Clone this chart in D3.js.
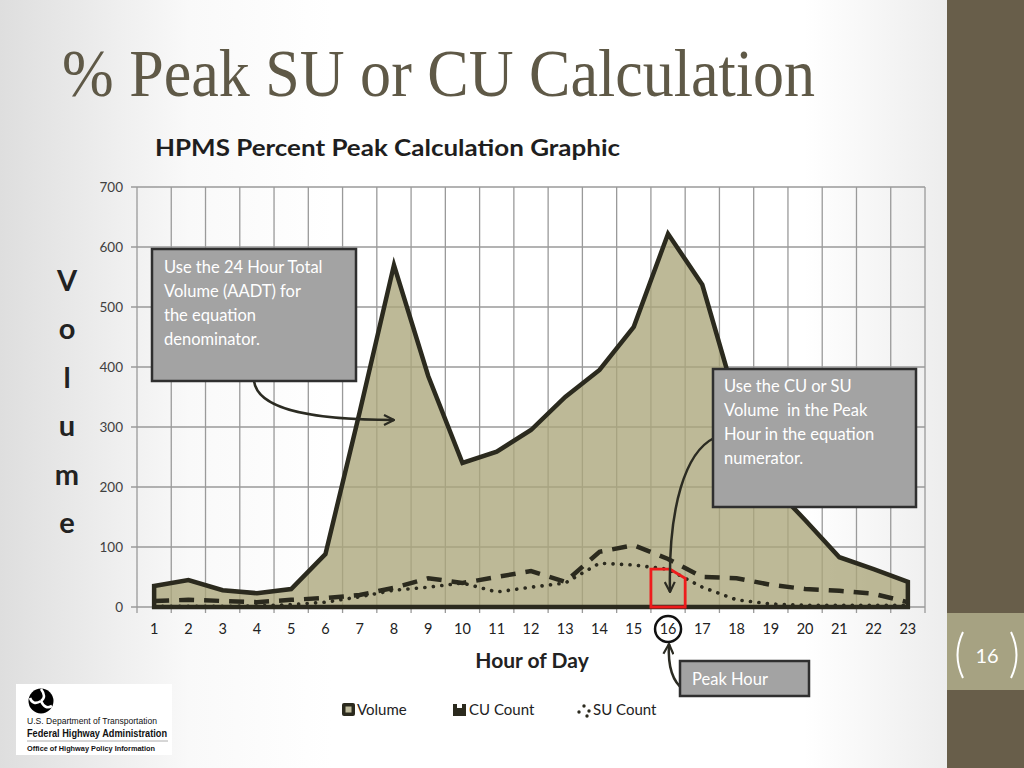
<!DOCTYPE html>
<html><head><meta charset="utf-8">
<script src="https://cdn.jsdelivr.net/npm/d3@7"></script>
<style>body{margin:0;background:#fff} svg{display:block} text{white-space:pre}</style>
</head><body>
<svg id="c" width="1024" height="768"></svg>
<script>
// ---- data ----
const hours = [1,2,3,4,5,6,7,8,9,10,11,12,13,14,15,16,17,18,19,20,21,22,23];
const volume = [35,45,28,23,30,88,325,570,385,240,259,295,350,395,467,622,537,340,205,145,83,63,42];
const cuCount = [10,12,10,8,12,15,20,32,48,40,50,60,42,92,103,80,50,48,37,30,27,22,8];
const suCount = [1,1,1,2,4,8,17,28,33,40,25,33,40,73,70,63,33,12,5,3,3,3,3];
const yTicks = [0,100,200,300,400,500,600,700];
const peakHour = 16;
const yLetters = ["V","o","l","u","m","e"];
const legendItems = ["Volume","CU Count","SU Count"];
const noteLeft = ["Use the 24 Hour Total","Volume (AADT) for","the equation","denominator."];
const noteRight = ["Use the CU or SU","Volume  in the Peak","Hour in the equation","numerator."];

const svg = d3.select('#c');
const defs = svg.append('defs');
const lg = defs.append('linearGradient').attr('id','bg').attr('x1',0).attr('x2',1).attr('y1',0).attr('y2',0);
[['0%','#dedede'],['20%','#f9f9f9'],['35%','#ffffff'],['85%','#ffffff'],['100%','#ededed']]
  .forEach(s=>lg.append('stop').attr('offset',s[0]).attr('stop-color',s[1]));
defs.append('marker').attr('id','arr').attr('viewBox','0 0 12 12').attr('refX',11).attr('refY',6)
  .attr('markerWidth',12).attr('markerHeight',12).attr('markerUnits','userSpaceOnUse').attr('orient','auto')
  .append('path').attr('d','M1,1 L11,6 L1,11').attr('fill','none').attr('stroke','#2b2b22').attr('stroke-width',2.2);

svg.append('rect').attr('width',947).attr('height',768).attr('fill','url(#bg)');
// sidebar
svg.append('rect').attr('x',947).attr('width',77).attr('height',768).attr('fill','#685e4a');
svg.append('rect').attr('x',947).attr('y',613).attr('width',77).attr('height',77).attr('fill','#a6a282');
svg.append('path').attr('d','M963,632 Q952,655 963,678').attr('fill','none').attr('stroke','#fff').attr('stroke-width',2);
svg.append('path').attr('d','M1011,632 Q1022,655 1011,678').attr('fill','none').attr('stroke','#fff').attr('stroke-width',2);
svg.append('text').attr('x',987).attr('y',663).attr('text-anchor','middle').attr('font-family','Lato').attr('font-size',20).attr('fill','#fff').text('16');

// title
svg.append('text').attr('x',62).attr('y',96).attr('font-family','Liberation Serif').attr('font-size',67)
  .attr('fill','#5f5947').attr('textLength',753).attr('lengthAdjust','spacingAndGlyphs').text('% Peak SU or CU Calculation');
svg.append('text').attr('x',155).attr('y',156).attr('font-family','Lato').attr('font-weight','bold').attr('font-size',23)
  .attr('fill','#1e1e1e').attr('textLength',465).attr('lengthAdjust','spacingAndGlyphs').text('HPMS Percent Peak Calculation Graphic');

// scales
const x = d3.scaleBand().domain(hours).range([137,925]).padding(0);
const bw = x.bandwidth();
const cx = h => x(h) + bw/2;
const y = d3.scaleLinear().domain([0,700]).range([607,187]);

const g = svg.append('g');
// horizontal grid
g.selectAll('.hg').data(yTicks).enter().append('line')
  .attr('x1',131).attr('x2',925).attr('y1',d=>y(d)).attr('y2',d=>y(d))
  .attr('stroke','#9a9a9a').attr('stroke-width',1.3);
// vertical grid
const bounds = hours.map(h=>x(h)).concat([x(23)+bw]);
g.selectAll('.vg').data(bounds).enter().append('line')
  .attr('x1',d=>d).attr('x2',d=>d).attr('y1',y(700)).attr('y2',y(0)+6)
  .attr('stroke','#9a9a9a').attr('stroke-width',1.3);
// y labels
g.selectAll('.yl').data(yTicks).enter().append('text')
  .attr('x',123).attr('y',d=>y(d)).attr('dy','0.35em').attr('text-anchor','end')
  .attr('font-family','Lato').attr('font-size',13.5).attr('fill','#404040').text(d=>d);
// x labels
g.selectAll('.xl').data(hours).enter().append('text')
  .attr('x',d=>cx(d)).attr('y',634).attr('text-anchor','middle')
  .attr('font-family','Lato').attr('font-size',14.5).attr('fill','#222').text(d=>d);

// volume area
const vData = hours.map((h,i)=>({h, v:volume[i]}));
g.append('path').datum(vData)
  .attr('d', d3.area().x(d=>cx(d.h)).y0(y(0)).y1(d=>y(d.v)))
  .attr('fill','rgb(170,165,122)').attr('fill-opacity',0.78)
  .attr('stroke','#2b2a1e').attr('stroke-width',4.5).attr('stroke-linejoin','miter');
// CU dashed
g.append('path').datum(hours.map((h,i)=>({h, v:cuCount[i]})))
  .attr('d', d3.line().x(d=>cx(d.h)).y(d=>y(d.v)))
  .attr('fill','none').attr('stroke','#2b2a1e').attr('stroke-width',4.5).attr('stroke-dasharray','15,10');
// SU dotted
g.append('path').datum(hours.map((h,i)=>({h, v:suCount[i]})))
  .attr('d', d3.line().x(d=>cx(d.h)).y(d=>y(d.v)))
  .attr('fill','none').attr('stroke','#2b2a1e').attr('stroke-width',3.6).attr('stroke-dasharray','0.1,8.4').attr('stroke-linecap','round');

// peak hour red highlight
const pi = hours.indexOf(peakHour);
const pv = suCount[pi], pvNext = (suCount[pi] + suCount[pi+1])/2;
g.append('path').attr('d', d3.line()([
  [x(peakHour), y(0)], [x(peakHour), y(pv)], [cx(peakHour)+2, y(pv)],
  [x(peakHour)+bw, y(pvNext)], [x(peakHour)+bw, y(0)]
]) + 'Z').attr('fill','none').attr('stroke','#ee1c1c').attr('stroke-width',2.8);

// circle on peak hour label
g.append('circle').attr('cx',cx(peakHour)).attr('cy',629).attr('r',13).attr('fill','none').attr('stroke','#111').attr('stroke-width',2.5);

// axis titles
svg.append('text').attr('x',532).attr('y',668).attr('text-anchor','middle').attr('font-family','Lato').attr('font-weight','bold')
  .attr('font-size',21).attr('fill','#222').text('Hour of Day');
svg.selectAll('.yv').data(yLetters).enter().append('text')
  .attr('x',67).attr('y',(d,i)=>291+i*48.4).attr('text-anchor','middle').attr('font-family','Lato').attr('font-weight','bold')
  .attr('font-size',29).attr('fill','#222').text(d=>d);

// callouts
function callout(x0,y0,w,h,lines,tx,ty,fs){
  svg.append('rect').attr('x',x0).attr('y',y0).attr('width',w).attr('height',h)
    .attr('fill','#a3a3a3').attr('stroke','#2f2f2f').attr('stroke-width',2.5);
  svg.selectAll(null).data(lines).enter().append('text')
    .attr('x',tx).attr('y',(d,i)=>ty+i*24).attr('font-family','Lato').attr('font-size',fs).attr('fill','#fff').text(d=>d);
}
// arrows
const arrow = d => svg.append('path').attr('d',d).attr('fill','none').attr('stroke','#2b2b22').attr('stroke-width',2.5).attr('marker-end','url(#arr)');
arrow('M254,381 C258,412 320,420 394,420');
arrow('M714,438 C686,452 668,505 670,592');
arrow('M684,690 Q667,678 669,644');

callout(152,249,204,132,noteLeft,164,273,16.5);
callout(713,369,203,138,noteRight,724,392,16.5);
callout(680,661,129,35,['Peak Hour'],692,685,16.5);

// legend
const lgY = 710;
svg.append('rect').attr('x',342).attr('y',lgY-7).attr('width',13).attr('height',13).attr('rx',2).attr('fill','#2b2a1e');
svg.append('rect').attr('x',345.5).attr('y',lgY-3.5).attr('width',6).attr('height',6).attr('fill','#bdb99a');
svg.append('rect').attr('x',453).attr('y',lgY-6).attr('width',13).attr('height',12).attr('fill','#2b2a1e');
svg.append('rect').attr('x',457).attr('y',lgY-6).attr('width',5).attr('height',4).attr('fill','#fff');
[[579,712],[584,706],[589,711],[587,716]].forEach(p=>svg.append('circle').attr('cx',p[0]).attr('cy',p[1]).attr('r',1.7).attr('fill','#2b2a1e'));
svg.selectAll('.lt').data(legendItems).enter().append('text')
  .attr('x',(d,i)=>[357,469,593][i]).attr('y',lgY+5).attr('font-family','Lato').attr('font-size',15).attr('fill','#222').text(d=>d);

// logo
const lgo = svg.append('g');
lgo.append('rect').attr('x',16).attr('y',684).attr('width',156).attr('height',71).attr('fill','#fff');
lgo.append('circle').attr('cx',41).attr('cy',701).attr('r',12.5).attr('fill','#000');
['M41,689 Q47,697 41,701','M41,701 Q33,706 30,698','M41,701 Q45,710 52,706'].forEach(d=>
  lgo.append('path').attr('d',d).attr('fill','none').attr('stroke','#fff').attr('stroke-width',2.6));
lgo.append('text').attr('x',27).attr('y',724).attr('font-family','Liberation Sans Narrow, Liberation Sans').attr('font-size',9.5).attr('fill','#111')
  .attr('textLength',130).attr('lengthAdjust','spacingAndGlyphs').text('U.S. Department of Transportation');
lgo.append('text').attr('x',27).attr('y',737).attr('font-family','Liberation Sans').attr('font-weight','bold').attr('font-size',10.5).attr('fill','#111')
  .attr('textLength',140).attr('lengthAdjust','spacingAndGlyphs').text('Federal Highway Administration');
lgo.append('line').attr('x1',27).attr('x2',168).attr('y1',741).attr('y2',741).attr('stroke','#999').attr('stroke-width',0.8);
lgo.append('text').attr('x',27).attr('y',751).attr('font-family','Liberation Sans').attr('font-weight','bold').attr('font-size',7.5).attr('fill','#111')
  .attr('textLength',128).attr('lengthAdjust','spacingAndGlyphs').text('Office of Highway Policy Information');
</script>
</body></html>
